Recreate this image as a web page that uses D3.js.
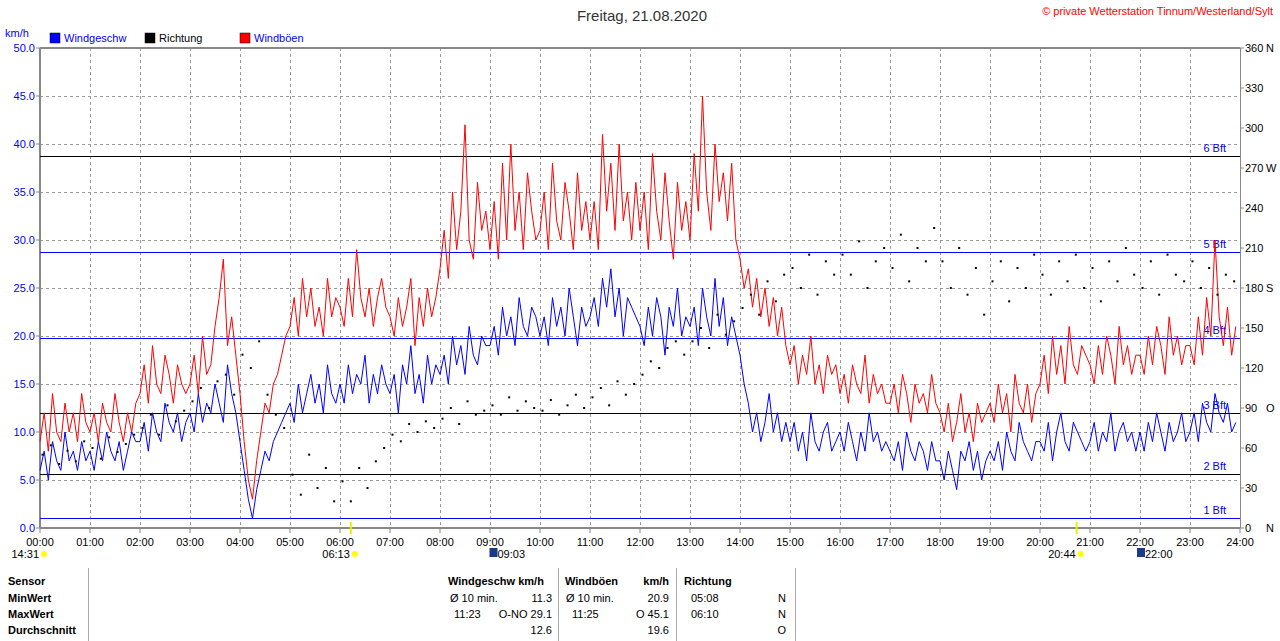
<!DOCTYPE html><html><head><meta charset="utf-8">
<script src="https://cdn.jsdelivr.net/npm/d3@7"></script>
<style>body{margin:0;background:#fff}svg{font-family:"Liberation Sans",Arial,sans-serif}</style></head><body>
<svg id="c" width="1280" height="641"></svg>
<script>
const hours=["00:00","01:00","02:00","03:00","04:00","05:00","06:00","07:00","08:00","09:00","10:00","11:00","12:00","13:00","14:00","15:00","16:00","17:00","18:00","19:00","20:00","21:00","22:00","23:00","24:00"];
const leftTicks=[0,5,10,15,20,25,30,35,40,45,50];
const rightTicks=[0,30,60,90,120,150,180,210,240,270,300,330,360];
const rightDirs={0:"N",90:"O",180:"S",270:"W",360:"N"};
const bftLevels=[1,5.6,12,19.8,28.8,38.8];
const bftNames=["1 Bft","2 Bft","3 Bft","4 Bft","5 Bft","6 Bft"];
const bftColors=["blue","black","black","blue","blue","black"];
// 5-minute values
const wind=[6,8,5,9,7,6,10,7,8,6,9,7, 8,6,9,7,10,8,7,9,6,8,10,9, 9,11,8,12,10,9,13,11,10,12,9,11, 12,10,14,11,13,12,15,13,11,17,14,12,
9,6,3,1,4,6,8,7,9,10,11,12, 13,11,15,12,14,16,13,15,12,17,14,13, 15,13,17,14,16,15,18,13,16,14,17,15, 14,16,12,17,15,19,14,16,13,18,15,17,
16,18,15,20,17,19,16,21,18,17,20,19, 19,21,18,23,20,22,19,24,21,20,23,22, 20,22,19,24,21,23,20,25,22,19,23,21, 22,24,21,26,23,27,22,25,20,24,23,22,
21,19,23,20,24,22,18,23,21,25,20,22, 21,23,19,25,22,20,26,21,24,19,22,20, 18,15,13,10,12,9,11,14,10,12,9,11, 9,11,8,10,7,12,9,8,10,11,8,9,
10,8,11,9,7,10,8,12,9,10,8,9, 8,7,9,6,10,8,7,9,8,6,9,7, 7,5,8,6,4,8,7,9,6,8,5,7, 8,7,9,6,10,8,7,11,9,8,7,9,
9,8,11,7,10,12,9,8,11,10,9,8, 9,11,8,10,9,12,8,10,11,9,10,8, 10,8,11,9,12,10,8,11,9,10,12,9, 10,12,9,13,11,10,14,12,11,13,10,11];
const gusts=[9,12,8,14,10,9,13,10,12,9,14,11, 10,12,9,13,11,10,14,11,9,12,10,13, 14,17,13,19,15,14,18,16,13,17,15,14, 15,18,14,20,16,17,21,24,28,19,22,18,
14,9,5,3,7,10,13,12,15,16,18,20, 21,24,20,26,22,25,21,23,20,26,22,24, 23,21,26,22,29,24,22,25,21,24,26,23, 22,20,24,21,23,26,19,24,21,25,22,24,
27,31,26,35,29,33,42,30,28,36,31,33, 29,34,28,38,30,40,31,35,29,37,33,30, 31,35,29,38,32,30,36,33,29,37,31,34, 30,34,29,41,33,38,31,40,32,35,30,36,
31,35,29,39,33,30,37,32,28,36,31,34, 30,39,33,45,35,31,40,34,37,32,38,30, 28,25,27,23,26,22,25,21,24,20,23,19, 17,19,15,18,16,20,15,17,14,18,16,17,
14,16,13,17,15,14,18,13,16,14,15,13, 13,15,12,16,14,11,15,13,14,12,16,13, 12,10,13,9,11,14,10,12,9,13,11,12, 13,11,15,12,14,10,16,13,12,15,11,14,
15,18,14,20,16,19,15,21,17,16,19,18, 17,15,19,16,20,18,15,21,17,19,16,18, 18,16,20,17,21,19,16,22,18,20,17,19, 19,17,22,18,24,20,30,22,19,23,18,21];
// 10-minute direction values (degrees)
const direction=[55,62,48,58,50,65, 60,52,68,57,63,70, 75,85,70,92,80,88, 95,105,90,110,115,100, 130,120,140,100,85,75, 40,25,55,30,45,20,
35,20,45,30,50,60, 70,65,78,72,80,75, 82,90,78,95,85,88, 92,85,98,88,95,90, 88,96,85,92,100,90, 98,105,92,110,100,108,
115,125,120,135,140,130, 140,150,135,160,145,155, 165,175,160,185,170,190, 195,180,205,175,200,190, 205,190,215,180,200,210, 195,220,185,210,200,225,
200,180,210,175,195,160, 185,200,170,195,180,205, 190,175,200,185,205,180, 195,170,200,185,210,190, 180,200,175,205,190,185, 200,180,195,175,190,185];

const svg=d3.select("#c");
const x=d3.scaleLinear().domain([0,24]).range([40,1240]);
const y=d3.scaleLinear().domain([0,50]).range([528,48]);
const yr=d3.scaleLinear().domain([0,360]).range([528,48]);
const cy=v=>Math.round(y(v))+0.5;
const g=svg.append("g");
g.selectAll(".vg").data(d3.range(1,24)).join("line").attr("x1",d=>x(d)+0.5).attr("x2",d=>x(d)+0.5).attr("y1",48).attr("y2",528).attr("stroke","#999").attr("stroke-dasharray","3,3");
g.selectAll(".hg").data(leftTicks.slice(1,-1)).join("line").attr("x1",40).attr("x2",1240).attr("y1",d=>cy(d)).attr("y2",d=>cy(d)).attr("stroke","#999").attr("stroke-dasharray","3,3");
g.append("line").attr("x1",40).attr("x2",1240).attr("y1",48).attr("y2",48).attr("stroke","#888").attr("stroke-width",2);
g.append("line").attr("x1",40).attr("x2",40).attr("y1",48).attr("y2",528).attr("stroke","#888").attr("stroke-width",2);
g.append("line").attr("x1",1240.5).attr("x2",1240.5).attr("y1",48).attr("y2",528).attr("stroke","#888");
g.append("line").attr("x1",40).attr("x2",1240).attr("y1",528).attr("y2",528).attr("stroke","#888").attr("stroke-width",2);
bftLevels.forEach((v,i)=>{
 g.append("line").attr("x1",40).attr("x2",1240).attr("y1",cy(v)).attr("y2",cy(v)).attr("stroke",bftColors[i]);
 g.append("text").attr("x",1226).attr("y",y(v)-4).attr("text-anchor","end").attr("font-size",11).attr("fill","blue").text(bftNames[i]);
});
const t5=i=>i*5/60;
const line=d3.line().x((d,i)=>x(t5(i))).y(d=>y(d));
g.append("path").datum(gusts).attr("d",line).attr("fill","none").attr("stroke","red").attr("stroke-width",1);
g.append("path").datum(wind).attr("d",line).attr("fill","none").attr("stroke","blue").attr("stroke-width",1);
g.selectAll(".dir").data(direction).join("rect").attr("x",(d,i)=>x(i*10/60+0.05)-1).attr("y",d=>yr(d)-1).attr("width",2).attr("height",2).attr("fill","black");
g.selectAll(".lt").data(leftTicks).join("text").attr("x",35).attr("y",d=>y(d)+4).attr("text-anchor","end").attr("font-size",11).attr("fill","blue").text(d=>d.toFixed(1));
g.selectAll(".ltk").data(leftTicks).join("line").attr("x1",36).attr("x2",40).attr("y1",d=>y(d)).attr("y2",d=>y(d)).attr("stroke","#888");
svg.append("text").attr("x",5).attr("y",37).attr("font-size",11).attr("fill","blue").text("km/h");
g.selectAll(".rt").data(rightTicks).join("text").attr("x",1245).attr("y",d=>yr(d)+4).attr("font-size",11).attr("fill","black").text(d=>d);
g.selectAll(".rd").data(rightTicks.filter(d=>rightDirs[d])).join("text").attr("x",1266).attr("y",d=>yr(d)+4).attr("font-size",11).text(d=>rightDirs[d]);
g.selectAll(".rtk").data(rightTicks).join("line").attr("x1",1240).attr("x2",1244).attr("y1",d=>yr(d)).attr("y2",d=>yr(d)).attr("stroke","#888");
g.selectAll(".xt").data(hours).join("text").attr("x",(d,i)=>x(i)).attr("y",546).attr("text-anchor","middle").attr("font-size",11).text(d=>d);
g.selectAll(".xtk").data(hours).join("line").attr("x1",(d,i)=>x(i)).attr("x2",(d,i)=>x(i)).attr("y1",528).attr("y2",533).attr("stroke","#888");
const marks=[["14:31",0,"moon"],["06:13",6+13/60,"sun"],["09:03",9+3/60,"box"],["20:44",20+44/60,"sun"],["22:00",22,"box"]];
marks.forEach(m=>{
 const px=m[0]==="14:31"?40:x(m[1]);
 if(m[2]==="box"){svg.append("rect").attr("x",px-3).attr("y",548).attr("width",8).attr("height",9).attr("fill","#1a3a8a");
  svg.append("text").attr("x",px+5).attr("y",558).attr("font-size",11).text(m[0]);}
 else{svg.append("circle").attr("cx",px+4).attr("cy",554).attr("r",3).attr("fill","#ff0");
  svg.append("text").attr("x",px-1).attr("y",558).attr("text-anchor","end").attr("font-size",11).text(m[0]);
  if(m[2]==="sun")svg.append("line").attr("x1",x(m[1])).attr("x2",x(m[1])).attr("y1",522).attr("y2",534).attr("stroke","#ee0").attr("stroke-width",2);}
});
svg.append("text").attr("x",642).attr("y",21).attr("text-anchor","middle").attr("font-size",15).attr("fill","#333").text("Freitag, 21.08.2020");
svg.append("text").attr("x",1273).attr("y",15).attr("text-anchor","end").attr("font-size",11).attr("fill","red").text("© private Wetterstation Tinnum/Westerland/Sylt");
const leg=[["Windgeschw","blue","blue",50],["Richtung","black","black",145],["Windböen","red","blue",240]];
leg.forEach(l=>{svg.append("rect").attr("x",l[3]).attr("y",33).attr("width",10).attr("height",10).attr("fill",l[1]).attr("stroke","#000").attr("stroke-width",0.5);
 svg.append("text").attr("x",l[3]+14).attr("y",42).attr("font-size",11).attr("fill",l[2]).text(l[0]);});
[88,558,676,795].forEach(v=>svg.append("line").attr("x1",v+0.5).attr("x2",v+0.5).attr("y1",568).attr("y2",641).attr("stroke","#aaa"));
const rows=[574,591,607,623];
["Sensor","MinWert","MaxWert","Durchschnitt"].forEach((t,i)=>svg.append("text").attr("x",8).attr("y",rows[i]+11).attr("font-size",11).attr("font-weight","bold").text(t));
const cells=[["Windgeschw km/h",448,0,"start",true],["Windböen",565,0,"start",true],["km/h",669,0,"end",true],["Richtung",684,0,"start",true],
["Ø 10 min.",450,1,"start"],["11.3",552,1,"end"],["Ø 10 min.",566,1,"start"],["20.9",669,1,"end"],["05:08",691,1,"start"],["N",786,1,"end"],
["11:23",454,2,"start"],["O-NO 29.1",552,2,"end"],["11:25",572,2,"start"],["O 45.1",669,2,"end"],["06:10",691,2,"start"],["N",786,2,"end"],
["12.6",552,3,"end"],["19.6",669,3,"end"],["O",786,3,"end"]];
cells.forEach(c=>svg.append("text").attr("x",c[1]).attr("y",rows[c[2]]+11).attr("text-anchor",c[3]).attr("font-size",11).attr("font-weight",c[4]?"bold":"normal").text(c[0]));
</script></body></html>
